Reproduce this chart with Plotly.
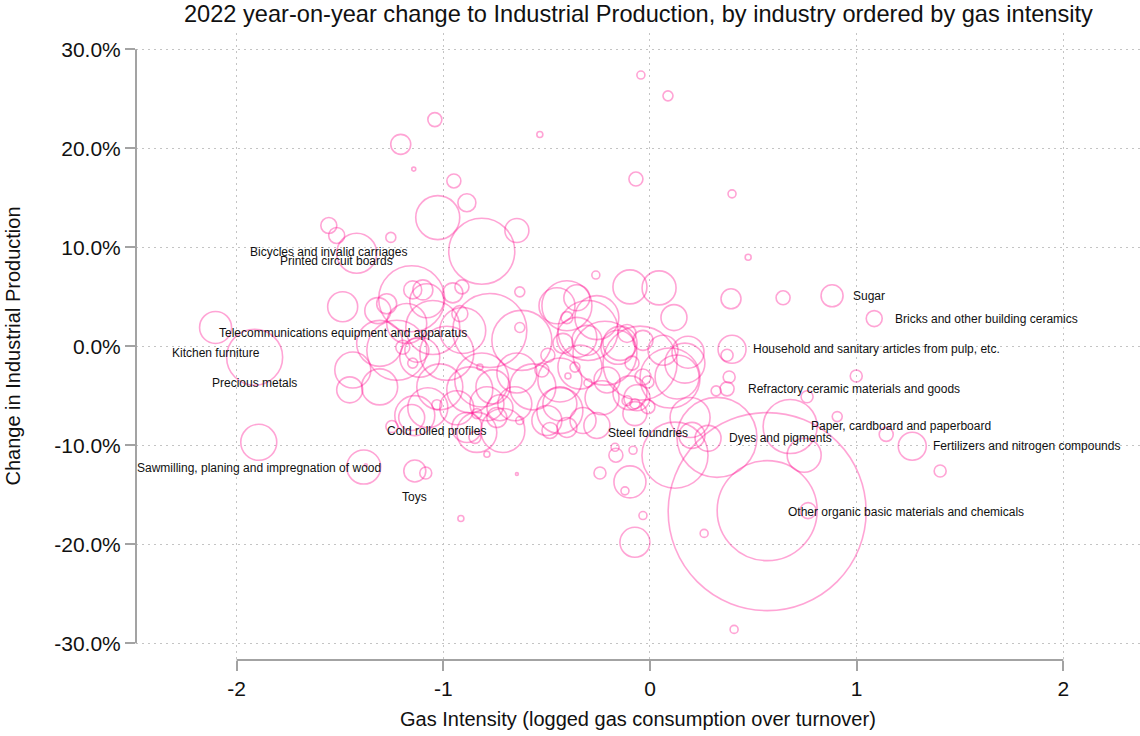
import plotly.graph_objects as go

# Labelled industries come first in the data arrays below.
label_names = [
    "Bicycles and invalid carriages",
    "Printed circuit boards",
    "Telecommunications equipment and apparatus",
    "Kitchen furniture",
    "Precious metals",
    "Cold rolled profiles",
    "Sawmilling, planing and impregnation of wood",
    "Toys",
    "Steel foundries",
    "Sugar",
    "Bricks and other building ceramics",
    "Household and sanitary articles from pulp, etc.",
    "Refractory ceramic materials and goods",
    "Paper, cardboard and paperboard",
    "Dyes and pigments",
    "Fertilizers and nitrogen compounds",
    "Other organic basic materials and chemicals",
]

# Gas intensity (log of gas consumption over turnover)
gas_intensity = [
    -1.554, -1.516, -1.487, -2.102, -1.913, -1.031, -1.893, -1.138, -0.010,
    0.881, 1.085, 0.397, 0.373, 0.678, 0.281, 1.269, 0.567,
    -0.044, 0.087, -1.041, -1.206, -0.533, -1.143, -0.949, -0.068, 0.397,
    -0.886, -1.027, -0.644, -1.254, -1.419, -0.814, 0.475, -0.262, -0.097,
    0.044, 0.116, -0.630, 0.392, 0.644, 0.373, 0.383, 0.320, 0.998, 0.760,
    0.906, 1.143, 0.746, 1.404, 0.765, 0.324, 0.203, 0.121, -1.385, -1.375,
    -1.085, -0.789, -0.644, -0.915, -0.242, -0.121, -0.097, -0.169, -0.165,
    -0.082, -0.034, -0.073, 0.262, 0.407, -1.249, -1.153, -1.317, -1.148,
    -1.080, -0.910, -0.954, -0.775, -1.051, -1.177, -1.308, -1.438, -1.308,
    -0.906, -0.983, -1.114, -1.148, -0.823, -0.620, -0.644, -1.017, -0.872,
    -0.760, -1.075, -0.935, -0.654, -1.453, -1.138, -0.838, -0.847, -0.886,
    -0.741, -0.712, -0.630, -1.225, -1.099, -1.274, -0.920, -0.630, -0.402,
    -0.450, -0.354, -0.402, -0.300, -0.257, -0.421, -0.305, -0.145, -0.111,
    -0.034, -0.048, 0.063, 0.184, 0.131, -0.494, -0.523, -0.363, -0.397,
    -0.339, -0.436, -0.567, -0.300, -0.208, -0.087, -0.034, -0.010, -0.097,
    -0.232, -0.436, -0.111, -0.073, -0.499, -0.484, -0.402, -0.436, -0.324,
    -0.257, -0.073, -0.218, -0.354, -0.155, 0.169, 0.097, -0.063, 0.194,
    -0.814, -1.128, -1.196, -1.153, -0.789, -0.726, -0.838, 0.567,
]

# Year-on-year change in industrial production, 2022 (%)
ip_change = [
    12.2, 11.2, 4.0, 1.9, -1.1, -5.9, -9.7, -12.6, -6.1,
    5.1, 2.8, -0.3, -4.3, -8.1, -9.3, -10.1, -16.7,
    27.4, 25.3, 22.9, 20.4, 21.4, 17.9, 16.7, 16.9, 15.4,
    14.5, 13.0, 11.7, 11.0, 9.4, 9.6, 9.0, 7.2, 6.0,
    5.9, 2.9, 5.5, 4.8, 4.9, -0.9, -3.1, -4.5, -3.0, -5.1,
    -7.1, -8.9, -11.0, -12.6, -16.6, -9.2, -9.0, -11.0, -12.2, -12.0,
    -12.8, -10.9, -12.9, -17.4, -12.8, -14.6, -13.7, -10.2, -11.0,
    -10.5, -17.1, -19.8, -18.9, -28.6, -8.1, 4.8, 3.6, 5.7,
    4.6, 6.0, 5.4, 1.6, 1.9, 2.3, 0.3, -2.4, -4.1,
    1.6, -0.7, -1.1, -1.7, -2.1, 0.6, -2.7, -4.1, -4.4,
    -4.1, -6.2, -6.2, -5.8, -4.4, -7.0, -6.8, -9.2, -8.2,
    -7.2, -8.5, -7.5, -0.4, 5.7, 4.3, 3.3, 1.9, 4.1,
    4.1, 4.9, 2.9, 1.6, 2.9, 0.3, 0.6, 0.3, 1.3,
    0.6, -1.7, -0.4, -0.6, -3.1, -0.9, -2.4, -2.1, -3.0,
    -2.1, -3.4, -4.1, -3.7, -3.4, -1.7, -3.1, -3.6, -4.7,
    -5.2, -5.8, -5.5, -5.8, -7.5, -8.5, -8.2, -6.5, -7.5,
    -8.0, -6.8, -0.7, 0.9, -0.1, -1.7, -3.2, -5.2, -7.2,
    -3.4, -0.4, -0.1, -7.2, -5.8, -6.2, -8.7, -16.6,
]

# Industry turnover, used as the bubble weight
turnover = [
    0.64, 0.64, 2.25, 2.56, 7.84, 0.25, 3.24, 1.21, 0.49,
    1.21, 0.64, 1.96, 0.49, 7.29, 1.69, 1.96, 98.0,
    0.16, 0.25, 0.49, 1.0, 0.09, 0.04, 0.49, 0.49, 0.16,
    0.81, 4.84, 1.44, 0.25, 4.0, 10.9, 0.09, 0.16, 2.89,
    2.89, 1.69, 0.25, 1.0, 0.49, 0.36, 0.36, 0.25, 0.36, 0.36,
    0.25, 0.49, 2.89, 0.36, 0.64, 16.0, 1.69, 10.9, 2.89, 0.02,
    0.36, 0.09, 0.02, 0.09, 0.36, 0.16, 2.56, 0.16, 0.49,
    0.16, 0.16, 2.25, 0.16, 0.16, 0.36, 10.9, 1.69, 0.81,
    2.89, 0.49, 1.0, 13.7, 7.29, 4.0, 5.29, 3.24, 3.24,
    5.29, 7.29, 4.0, 0.25, 0.09, 9.0, 4.0, 5.29, 5.29,
    2.89, 4.0, 2.89, 2.89, 1.69, 4.0, 0.25, 0.36, 2.25,
    1.0, 4.84, 0.16, 9.0, 1.0, 1.0, 0.64, 0.25, 6.25,
    3.24, 1.69, 0.36, 9.0, 4.84, 1.0, 2.25, 2.89, 0.81,
    1.0, 13.7, 2.25, 2.56, 4.84, 0.49, 0.49, 0.25, 0.09,
    4.84, 4.84, 5.29, 0.16, 1.69, 0.49, 0.64, 0.36, 2.89,
    2.89, 2.89, 0.25, 0.25, 2.25, 0.64, 1.0, 5.29, 1.69,
    1.69, 1.44, 10.2, 4.0, 2.89, 4.0, 9.0, 1.69, 4.0,
    7.29, 1.44, 0.49, 1.69, 2.89, 1.69, 4.0, 25.0,
]

x_ticks = [-2, -1, 0, 1, 2]
x_tick_text = ["-2", "-1", "0", "1", "2"]
y_ticks = [-30, -20, -10, 0, 10, 20, 30]
y_tick_text = ["-30.0%", "-20.0%", "-10.0%", "0.0%", "10.0%", "20.0%", "30.0%"]

FONT = "Liberation Sans, Arial, sans-serif"
AXIS_GREY = "#a3a3a3"
GRID_GREY = "#c4c4c4"

fig = go.Figure()
fig.add_trace(go.Scatter(
    x=gas_intensity,
    y=ip_change,
    mode="markers",
    marker=dict(
        symbol="circle",
        size=turnover,
        sizemode="area",
        sizeref=0.005,
        sizemin=0,
        color="rgba(0,0,0,0)",
        line=dict(color="rgba(255,20,147,0.55)", width=1.6),
    ),
    hoverinfo="skip",
    showlegend=False,
))

# Industry labels: below the marker on the left half, to the right on the right half
annotations = []
for name, gx, yc in zip(label_names, gas_intensity, ip_change):
    if gx < 0:
        annotations.append(dict(x=gx, y=yc, xref="x", yref="y", text=name,
                                showarrow=False, xanchor="center", yanchor="middle",
                                yshift=-26, font=dict(family=FONT, size=12, color="#111")))
    else:
        annotations.append(dict(x=gx, y=yc, xref="x", yref="y", text=name,
                                showarrow=False, xanchor="left", yanchor="middle",
                                xshift=19, font=dict(family=FONT, size=12, color="#111")))

# Chart title and axis titles
annotations.append(dict(text="2022 year-on-year change to Industrial Production, by industry ordered by gas intensity",
                        xref="paper", yref="paper", x=0.5, y=1 + 19 / 627,
                        xanchor="center", yanchor="middle", showarrow=False,
                        font=dict(family=FONT, size=23.6, color="#111")))
annotations.append(dict(text="Gas Intensity (logged gas consumption over turnover)",
                        xref="paper", yref="paper", x=0.5, y=-0.094,
                        xanchor="center", yanchor="middle", showarrow=False,
                        font=dict(family=FONT, size=20, color="#111")))
annotations.append(dict(text="Change in Industrial Production",
                        xref="paper", yref="paper", x=-0.1235, y=0.5,
                        xanchor="center", yanchor="middle", textangle=-90,
                        showarrow=False, font=dict(family=FONT, size=20, color="#111")))

# Axis lines spanning only the labelled tick range
shapes = [
    dict(type="line", xref="x", yref="paper", x0=x_ticks[0], x1=x_ticks[-1], y0=0, y1=0,
         line=dict(color=AXIS_GREY, width=2), layer="above"),
    dict(type="line", xref="paper", yref="y", x0=0, x1=0, y0=y_ticks[0], y1=y_ticks[-1],
         line=dict(color=AXIS_GREY, width=2), layer="above"),
]

fig.update_layout(
    width=1140,
    height=736,
    margin=dict(l=136, r=0, t=33, b=76),
    paper_bgcolor="white",
    plot_bgcolor="white",
    annotations=annotations,
    shapes=shapes,
    xaxis=dict(
        range=[-2.487, 2.371],
        tickvals=x_ticks, ticktext=x_tick_text,
        ticks="outside", ticklen=10, tickwidth=2, tickcolor=AXIS_GREY,
        showline=False, zeroline=False,
        showgrid=True, gridcolor=GRID_GREY, gridwidth=1, griddash="1.5px,4.5px",
        tickfont=dict(family=FONT, size=21, color="#111"),
    ),
    yaxis=dict(
        range=[-31.69, 31.65],
        tickvals=y_ticks, ticktext=y_tick_text,
        ticks="outside", ticklen=10, tickwidth=2, tickcolor=AXIS_GREY,
        showline=False, zeroline=False,
        showgrid=True, gridcolor=GRID_GREY, gridwidth=1, griddash="1.5px,4.5px",
        tickfont=dict(family=FONT, size=21, color="#111"),
    ),
)

fig.write_html("out.html")
